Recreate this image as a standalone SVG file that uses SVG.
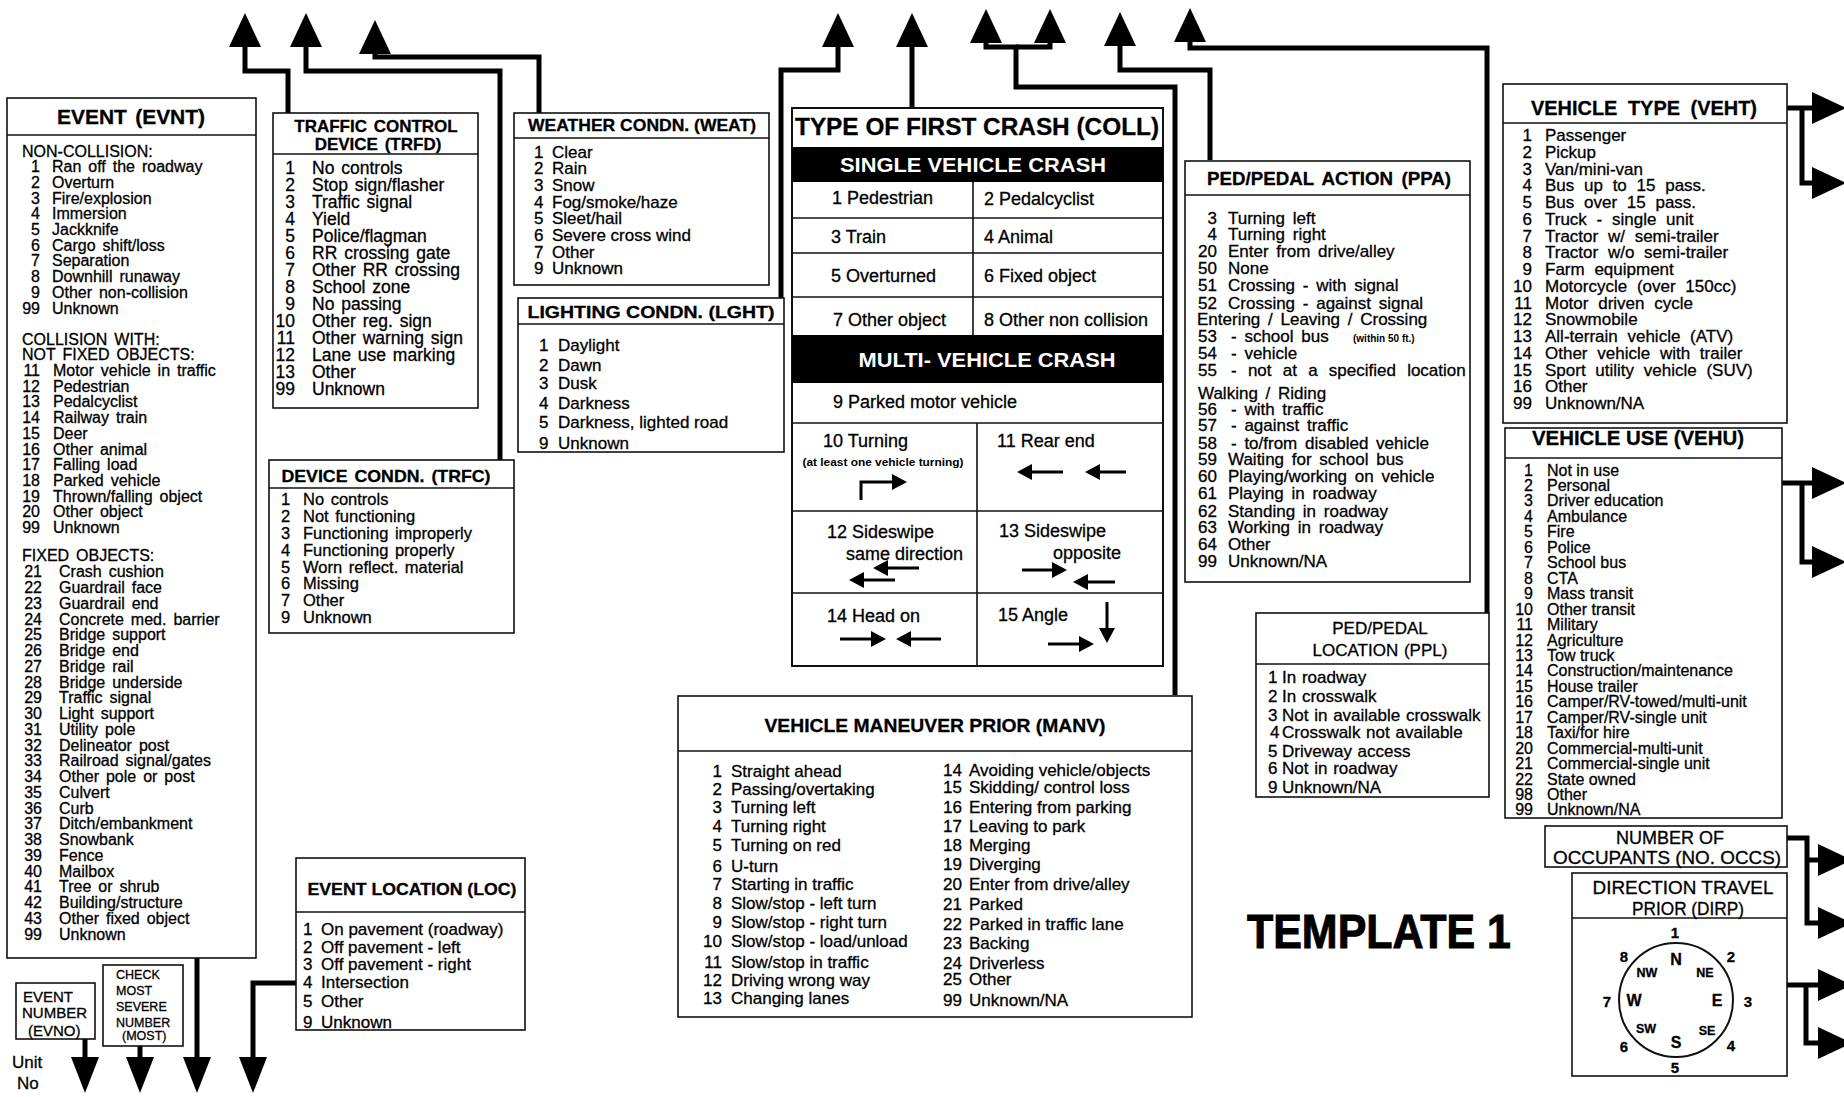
<svg xmlns="http://www.w3.org/2000/svg" width="1844" height="1097" viewBox="0 0 1844 1097">
<defs>
<style>
.bx{fill:#fff;stroke:#111;stroke-width:1.6}
.dv{stroke:#111;stroke-width:1.6}
text{font-family:"Liberation Sans",Arial,Helvetica,sans-serif;fill:#000;stroke:#000;stroke-width:0.3}
.h{font-weight:bold}
.n{text-anchor:end}
.m{text-anchor:middle}
.cn{fill:none;stroke:#000;stroke-width:5;marker-end:url(#ah)}
.cnb{fill:none;stroke:#000;stroke-width:5;marker-end:url(#ahb)}
.sa{fill:none;stroke:#000;stroke-width:3;marker-end:url(#sm)}
.ev{font-size:16px;word-spacing:2.5px}
.tr{font-size:17.5px;word-spacing:2px}
.dc{font-size:16.5px;word-spacing:2px}
.wl{font-size:17px}
.co{font-size:18px}
.mv{font-size:17px}
.lc{font-size:17px}
.pa{font-size:17px;word-spacing:3px}
.pl{font-size:17px;word-spacing:1px}
.vt{font-size:17px;word-spacing:5px}
.vu{font-size:16px}
.sm12{font-size:12.5px}
.s15{font-size:15px}
.t20{font-size:20px}
.t17{font-size:17px}
.t18{font-size:18px}
.t24{font-size:24px}
.wt{fill:#fff;stroke:none}
</style>
<marker id="ah" viewBox="0 0 34 32" refX="0" refY="16" markerWidth="34" markerHeight="32" markerUnits="userSpaceOnUse" orient="auto"><path d="M0,0L34,16L0,32Z" fill="#000"/></marker>
<marker id="ahb" viewBox="0 0 36 28" refX="0" refY="14" markerWidth="36" markerHeight="28" markerUnits="userSpaceOnUse" orient="auto"><path d="M0,0L36,14L0,28Z" fill="#000"/></marker>
<marker id="sm" viewBox="0 0 15 16" refX="0" refY="8" markerWidth="15" markerHeight="16" markerUnits="userSpaceOnUse" orient="auto"><path d="M0,0L15,8L0,16Z" fill="#000"/></marker>
</defs>
<rect x="0" y="0" width="1844" height="1097" fill="#fff"/>

<g id="connectors">
<path class="cn" d="M288,113 V71 H245 V47"/>
<path class="cn" d="M500,461 V71 H306 V47"/>
<path class="cn" d="M539,113 V57 H375 V54"/>
<path class="cn" d="M781,298 V70 H838 V47"/>
<path class="cn" d="M912,108 V47"/>
<path class="cn" d="M1175,695 V87 H1016 V47 H986 V43"/>
<path class="cn" d="M1016,47 H1050 V43"/>
<path class="cn" d="M1210,160 V70 H1120 V46"/>
<path class="cn" d="M1487,613 V48 H1190 V42"/>
<path class="cn" d="M1787,108 H1812"/>
<path class="cn" d="M1802,108 V183 H1812"/>
<path class="cn" d="M1782,483 H1812"/>
<path class="cn" d="M1802,483 V562 H1812"/>
<path class="cn" d="M1787,838 H1807 V923 H1818"/>
<path class="cn" d="M1807,860 H1818"/>
<path class="cn" d="M1787,985 H1818"/>
<path class="cn" d="M1806,985 V1043 H1818"/>
<path class="cnb" d="M85,1039 V1057"/>
<path class="cnb" d="M140,1046 V1057"/>
<path class="cnb" d="M197,958 V1057"/>
<path class="cnb" d="M296,983 H253 V1057"/>
</g>

<g id="evnt" class="ev">
<rect class="bx" x="7" y="98" width="249" height="860"/>
<line class="dv" x1="7" y1="135" x2="256" y2="135"/>
<text class="h m t20" x="131" y="124" textLength="148" lengthAdjust="spacingAndGlyphs">EVENT (EVNT)</text>
<text x="22" y="157">NON-COLLISION:</text>
<text class="n" x="40" y="172">1</text><text x="52" y="172">Ran off the roadway</text>
<text class="n" x="40" y="188">2</text><text x="52" y="188">Overturn</text>
<text class="n" x="40" y="204">3</text><text x="52" y="204">Fire/explosion</text>
<text class="n" x="40" y="219">4</text><text x="52" y="219">Immersion</text>
<text class="n" x="40" y="235">5</text><text x="52" y="235">Jackknife</text>
<text class="n" x="40" y="251">6</text><text x="52" y="251">Cargo shift/loss</text>
<text class="n" x="40" y="266">7</text><text x="52" y="266">Separation</text>
<text class="n" x="40" y="282">8</text><text x="52" y="282">Downhill runaway</text>
<text class="n" x="40" y="298">9</text><text x="52" y="298">Other non-collision</text>
<text class="n" x="40" y="314">99</text><text x="52" y="314">Unknown</text>
<text x="22" y="345">COLLISION WITH:</text>
<text x="22" y="360">NOT FIXED OBJECTS:</text>
<text class="n" x="40" y="376">11</text><text x="53" y="376">Motor vehicle in traffic</text>
<text class="n" x="40" y="392">12</text><text x="53" y="392">Pedestrian</text>
<text class="n" x="40" y="407">13</text><text x="53" y="407">Pedalcyclist</text>
<text class="n" x="40" y="423">14</text><text x="53" y="423">Railway train</text>
<text class="n" x="40" y="439">15</text><text x="53" y="439">Deer</text>
<text class="n" x="40" y="455">16</text><text x="53" y="455">Other animal</text>
<text class="n" x="40" y="470">17</text><text x="53" y="470">Falling load</text>
<text class="n" x="40" y="486">18</text><text x="53" y="486">Parked vehicle</text>
<text class="n" x="40" y="502">19</text><text x="53" y="502">Thrown/falling object</text>
<text class="n" x="40" y="517">20</text><text x="53" y="517">Other object</text>
<text class="n" x="40" y="533">99</text><text x="53" y="533">Unknown</text>
<text x="22" y="561">FIXED OBJECTS:</text>
<text class="n" x="42" y="577">21</text><text x="59" y="577">Crash cushion</text>
<text class="n" x="42" y="593">22</text><text x="59" y="593">Guardrail face</text>
<text class="n" x="42" y="609">23</text><text x="59" y="609">Guardrail end</text>
<text class="n" x="42" y="625">24</text><text x="59" y="625">Concrete med. barrier</text>
<text class="n" x="42" y="640">25</text><text x="59" y="640">Bridge support</text>
<text class="n" x="42" y="656">26</text><text x="59" y="656">Bridge end</text>
<text class="n" x="42" y="672">27</text><text x="59" y="672">Bridge rail</text>
<text class="n" x="42" y="688">28</text><text x="59" y="688">Bridge underside</text>
<text class="n" x="42" y="703">29</text><text x="59" y="703">Traffic signal</text>
<text class="n" x="42" y="719">30</text><text x="59" y="719">Light support</text>
<text class="n" x="42" y="735">31</text><text x="59" y="735">Utility pole</text>
<text class="n" x="42" y="751">32</text><text x="59" y="751">Delineator post</text>
<text class="n" x="42" y="766">33</text><text x="59" y="766">Railroad signal/gates</text>
<text class="n" x="42" y="782">34</text><text x="59" y="782">Other pole or post</text>
<text class="n" x="42" y="798">35</text><text x="59" y="798">Culvert</text>
<text class="n" x="42" y="814">36</text><text x="59" y="814">Curb</text>
<text class="n" x="42" y="829">37</text><text x="59" y="829">Ditch/embankment</text>
<text class="n" x="42" y="845">38</text><text x="59" y="845">Snowbank</text>
<text class="n" x="42" y="861">39</text><text x="59" y="861">Fence</text>
<text class="n" x="42" y="877">40</text><text x="59" y="877">Mailbox</text>
<text class="n" x="42" y="892">41</text><text x="59" y="892">Tree or shrub</text>
<text class="n" x="42" y="908">42</text><text x="59" y="908">Building/structure</text>
<text class="n" x="42" y="924">43</text><text x="59" y="924">Other fixed object</text>
<text class="n" x="42" y="940">99</text><text x="59" y="940">Unknown</text>
</g>

<g id="evno" class="s15">
<rect class="bx" x="16" y="983" width="79" height="56"/>
<text x="23" y="1002">EVENT</text>
<text x="22" y="1018">NUMBER</text>
<text x="28" y="1036">(EVNO)</text>
</g>

<g id="most" class="sm12">
<rect class="bx" x="103" y="965" width="80" height="81"/>
<text x="116" y="979">CHECK</text>
<text x="116" y="995">MOST</text>
<text x="116" y="1011">SEVERE</text>
<text x="116" y="1027">NUMBER</text>
<text x="122" y="1040">(MOST)</text>
</g>

<g id="unitno" class="t17">
<text x="12" y="1068">Unit</text>
<text x="17" y="1089">No</text>
</g>

<g id="trfd" class="tr">
<rect class="bx" x="273" y="113" width="205" height="295"/>
<line class="dv" x1="273" y1="154" x2="478" y2="154"/>
<text class="h m t17" x="376" y="132">TRAFFIC CONTROL</text>
<text class="h m t17" x="378" y="150">DEVICE (TRFD)</text>
<text class="n" x="295" y="174">1</text><text x="312" y="174">No controls</text>
<text class="n" x="295" y="191">2</text><text x="312" y="191">Stop sign/flasher</text>
<text class="n" x="295" y="208">3</text><text x="312" y="208">Traffic signal</text>
<text class="n" x="295" y="225">4</text><text x="312" y="225">Yield</text>
<text class="n" x="295" y="242">5</text><text x="312" y="242">Police/flagman</text>
<text class="n" x="295" y="259">6</text><text x="312" y="259">RR crossing gate</text>
<text class="n" x="295" y="276">7</text><text x="312" y="276">Other RR crossing</text>
<text class="n" x="295" y="293">8</text><text x="312" y="293">School zone</text>
<text class="n" x="295" y="310">9</text><text x="312" y="310">No passing</text>
<text class="n" x="295" y="327">10</text><text x="312" y="327">Other reg. sign</text>
<text class="n" x="295" y="344">11</text><text x="312" y="344">Other warning sign</text>
<text class="n" x="295" y="361">12</text><text x="312" y="361">Lane use marking</text>
<text class="n" x="295" y="378">13</text><text x="312" y="378">Other</text>
<text class="n" x="295" y="395">99</text><text x="312" y="395">Unknown</text>
</g>

<g id="trfc" class="dc">
<rect class="bx" x="269" y="460" width="245" height="173"/>
<line class="dv" x1="269" y1="488" x2="514" y2="488"/>
<text class="h m t17" x="386" y="482" textLength="209" lengthAdjust="spacingAndGlyphs">DEVICE CONDN. (TRFC)</text>
<text x="281" y="505">1</text><text x="303" y="505">No controls</text>
<text x="281" y="522">2</text><text x="303" y="522">Not functioning</text>
<text x="281" y="539">3</text><text x="303" y="539">Functioning improperly</text>
<text x="281" y="556">4</text><text x="303" y="556">Functioning properly</text>
<text x="281" y="573">5</text><text x="303" y="573">Worn reflect. material</text>
<text x="281" y="589">6</text><text x="303" y="589">Missing</text>
<text x="281" y="606">7</text><text x="303" y="606">Other</text>
<text x="281" y="623">9</text><text x="303" y="623">Unknown</text>
</g>

<g id="weat" class="wl">
<rect class="bx" x="514" y="113" width="255" height="172"/>
<line class="dv" x1="514" y1="138" x2="769" y2="138"/>
<text class="h m t17" x="642" y="131" textLength="228" lengthAdjust="spacingAndGlyphs">WEATHER CONDN. (WEAT)</text>
<text x="534" y="158">1</text><text x="552" y="158">Clear</text>
<text x="534" y="174">2</text><text x="552" y="174">Rain</text>
<text x="534" y="191">3</text><text x="552" y="191">Snow</text>
<text x="534" y="208">4</text><text x="552" y="208">Fog/smoke/haze</text>
<text x="534" y="224">5</text><text x="552" y="224">Sleet/hail</text>
<text x="534" y="241">6</text><text x="552" y="241">Severe cross wind</text>
<text x="534" y="258">7</text><text x="552" y="258">Other</text>
<text x="534" y="274">9</text><text x="552" y="274">Unknown</text>
</g>

<g id="lght" class="wl">
<rect class="bx" x="518" y="298" width="266" height="154"/>
<line class="dv" x1="518" y1="324" x2="784" y2="324"/>
<text class="h m t17" x="651" y="318" textLength="247" lengthAdjust="spacingAndGlyphs">LIGHTING CONDN. (LGHT)</text>
<text x="539" y="351">1</text><text x="558" y="351">Daylight</text>
<text x="539" y="371">2</text><text x="558" y="371">Dawn</text>
<text x="539" y="389">3</text><text x="558" y="389">Dusk</text>
<text x="539" y="409">4</text><text x="558" y="409">Darkness</text>
<text x="539" y="428">5</text><text x="558" y="428">Darkness, lighted road</text>
<text x="539" y="449">9</text><text x="558" y="449">Unknown</text>
</g>

<g id="coll" class="co">
<rect class="bx" x="792" y="108" width="371" height="558" style="stroke-width:2"/>
<text class="h m t24" x="977" y="135" textLength="364" lengthAdjust="spacingAndGlyphs">TYPE OF FIRST CRASH (COLL)</text>
<rect x="792" y="147" width="371" height="35" fill="#000"/>
<text class="h m t20 wt" x="973" y="172" textLength="266" lengthAdjust="spacingAndGlyphs">SINGLE VEHICLE CRASH</text>
<line class="dv" x1="792" y1="218" x2="1163" y2="218"/>
<line class="dv" x1="792" y1="253" x2="1163" y2="253"/>
<line class="dv" x1="792" y1="297" x2="1163" y2="297"/>
<line class="dv" x1="973" y1="182" x2="973" y2="335"/>
<rect x="792" y="335" width="371" height="48" fill="#000"/>
<text class="h m t20 wt" x="987" y="367" textLength="257" lengthAdjust="spacingAndGlyphs">MULTI- VEHICLE CRASH</text>
<line class="dv" x1="792" y1="423" x2="1163" y2="423"/>
<line class="dv" x1="792" y1="511" x2="1163" y2="511"/>
<line class="dv" x1="792" y1="593" x2="1163" y2="593"/>
<line class="dv" x1="977" y1="423" x2="977" y2="666"/>
<text x="832" y="204">1 Pedestrian</text>
<text x="984" y="205">2 Pedalcyclist</text>
<text x="831" y="243">3 Train</text>
<text x="984" y="243">4 Animal</text>
<text x="831" y="282">5 Overturned</text>
<text x="984" y="282">6 Fixed object</text>
<text x="833" y="326">7 Other object</text>
<text x="984" y="326">8 Other non collision</text>
<text x="833" y="408">9 Parked motor vehicle</text>
<text x="823" y="447">10 Turning</text>
<text class="h m" x="883" y="466" style="font-size:10.5px;stroke:none" textLength="161" lengthAdjust="spacingAndGlyphs">(at least one vehicle turning)</text>
<text x="997" y="447">11 Rear end</text>
<text x="827" y="538">12 Sideswipe</text>
<text x="846" y="560">same direction</text>
<text x="999" y="537">13 Sideswipe</text>
<text x="1053" y="559">opposite</text>
<text x="827" y="622">14 Head on</text>
<text x="998" y="621">15 Angle</text>
<path class="sa" d="M861,500 V482 H892"/>
<path class="sa" d="M1063,472 H1032"/>
<path class="sa" d="M1126,472 H1100"/>
<path class="sa" d="M919,568 H888"/>
<path class="sa" d="M895,580 H864"/>
<path class="sa" d="M1022,570 H1052"/>
<path class="sa" d="M1115,582 H1088"/>
<path class="sa" d="M840,639 H871"/>
<path class="sa" d="M941,639 H911"/>
<path class="sa" d="M1048,644 H1079"/>
<path class="sa" d="M1107,602 V628"/>
</g>

<g id="manv" class="mv">
<rect class="bx" x="678" y="696" width="514" height="321"/>
<line class="dv" x1="678" y1="751" x2="1192" y2="751"/>
<text class="h m t18" x="935" y="732" textLength="341" lengthAdjust="spacingAndGlyphs">VEHICLE MANEUVER PRIOR (MANV)</text>
<text class="n" x="722" y="777">1</text><text x="731" y="777">Straight ahead</text>
<text class="n" x="722" y="795">2</text><text x="731" y="795">Passing/overtaking</text>
<text class="n" x="722" y="813">3</text><text x="731" y="813">Turning left</text>
<text class="n" x="722" y="832">4</text><text x="731" y="832">Turning right</text>
<text class="n" x="722" y="851">5</text><text x="731" y="851">Turning on red</text>
<text class="n" x="722" y="872">6</text><text x="731" y="872">U-turn</text>
<text class="n" x="722" y="890">7</text><text x="731" y="890">Starting in traffic</text>
<text class="n" x="722" y="909">8</text><text x="731" y="909">Slow/stop - left turn</text>
<text class="n" x="722" y="928">9</text><text x="731" y="928">Slow/stop - right turn</text>
<text class="n" x="722" y="947">10</text><text x="731" y="947">Slow/stop - load/unload</text>
<text class="n" x="722" y="968">11</text><text x="731" y="968">Slow/stop in traffic</text>
<text class="n" x="722" y="986">12</text><text x="731" y="986">Driving wrong way</text>
<text class="n" x="722" y="1004">13</text><text x="731" y="1004">Changing lanes</text>
<text class="n" x="962" y="776">14</text><text x="969" y="776">Avoiding vehicle/objects</text>
<text class="n" x="962" y="793">15</text><text x="969" y="793">Skidding/ control loss</text>
<text class="n" x="962" y="813">16</text><text x="969" y="813">Entering from parking</text>
<text class="n" x="962" y="832">17</text><text x="969" y="832">Leaving to park</text>
<text class="n" x="962" y="851">18</text><text x="969" y="851">Merging</text>
<text class="n" x="962" y="870">19</text><text x="969" y="870">Diverging</text>
<text class="n" x="962" y="890">20</text><text x="969" y="890">Enter from drive/alley</text>
<text class="n" x="962" y="910">21</text><text x="969" y="910">Parked</text>
<text class="n" x="962" y="930">22</text><text x="969" y="930">Parked in traffic lane</text>
<text class="n" x="962" y="949">23</text><text x="969" y="949">Backing</text>
<text class="n" x="962" y="969">24</text><text x="969" y="969">Driverless</text>
<text class="n" x="962" y="985">25</text><text x="969" y="985">Other</text>
<text class="n" x="962" y="1006">99</text><text x="969" y="1006">Unknown/NA</text>
</g>

<g id="loc" class="lc">
<rect class="bx" x="296" y="858" width="229" height="172"/>
<line class="dv" x1="296" y1="912" x2="525" y2="912"/>
<text class="h m t17" x="412" y="895" textLength="209" lengthAdjust="spacingAndGlyphs">EVENT LOCATION (LOC)</text>
<text x="303" y="935">1</text><text x="321" y="935">On pavement (roadway)</text>
<text x="303" y="953">2</text><text x="321" y="953">Off pavement - left</text>
<text x="303" y="970">3</text><text x="321" y="970">Off pavement - right</text>
<text x="303" y="988">4</text><text x="321" y="988">Intersection</text>
<text x="303" y="1007">5</text><text x="321" y="1007">Other</text>
<text x="303" y="1028">9</text><text x="321" y="1028">Unknown</text>
</g>

<g id="ppa" class="pa">
<rect class="bx" x="1185" y="161" width="285" height="421"/>
<line class="dv" x1="1185" y1="195" x2="1470" y2="195"/>
<text class="h m t18" x="1329" y="185" textLength="244" lengthAdjust="spacingAndGlyphs">PED/PEDAL ACTION (PPA)</text>
<text class="n" x="1217" y="224">3</text><text x="1228" y="224">Turning left</text>
<text class="n" x="1217" y="240">4</text><text x="1228" y="240">Turning right</text>
<text class="n" x="1217" y="257">20</text><text x="1228" y="257">Enter from drive/alley</text>
<text class="n" x="1217" y="274">50</text><text x="1228" y="274">None</text>
<text class="n" x="1217" y="291">51</text><text x="1228" y="291">Crossing - with signal</text>
<text class="n" x="1217" y="309">52</text><text x="1228" y="309">Crossing - against signal</text>
<text x="1197" y="325">Entering / Leaving / Crossing</text>
<text class="n" x="1217" y="342">53</text><text x="1231" y="342">- school bus</text>
<text class="h" x="1353" y="342" style="font-size:10px;word-spacing:0;stroke:none">(within 50 ft.)</text>
<text class="n" x="1217" y="359">54</text><text x="1231" y="359">- vehicle</text>
<text class="n" x="1217" y="376">55</text><text x="1231" y="376" style="word-spacing:6.5px">- not at a specified location</text>
<text x="1198" y="399">Walking / Riding</text>
<text class="n" x="1217" y="415">56</text><text x="1231" y="415">- with traffic</text>
<text class="n" x="1217" y="431">57</text><text x="1231" y="431">- against traffic</text>
<text class="n" x="1217" y="449">58</text><text x="1231" y="449">- to/from disabled vehicle</text>
<text class="n" x="1217" y="465">59</text><text x="1228" y="465">Waiting for school bus</text>
<text class="n" x="1217" y="482">60</text><text x="1228" y="482">Playing/working on vehicle</text>
<text class="n" x="1217" y="499">61</text><text x="1228" y="499">Playing in roadway</text>
<text class="n" x="1217" y="517">62</text><text x="1228" y="517">Standing in roadway</text>
<text class="n" x="1217" y="533">63</text><text x="1228" y="533">Working in roadway</text>
<text class="n" x="1217" y="550">64</text><text x="1228" y="550">Other</text>
<text class="n" x="1217" y="567">99</text><text x="1228" y="567">Unknown/NA</text>
</g>

<g id="ppl" class="pl">
<rect class="bx" x="1256" y="613" width="233" height="184"/>
<line class="dv" x1="1256" y1="664" x2="1489" y2="664"/>
<text class="m" x="1380" y="634">PED/PEDAL</text>
<text class="m" x="1380" y="656">LOCATION (PPL)</text>
<text x="1268" y="683">1</text><text x="1282" y="683">In roadway</text>
<text x="1268" y="702">2</text><text x="1282" y="702">In crosswalk</text>
<text x="1268" y="721">3</text><text x="1282" y="721">Not in available crosswalk</text>
<text x="1270" y="738">4</text><text x="1282" y="738">Crosswalk not available</text>
<text x="1268" y="757">5</text><text x="1282" y="757">Driveway access</text>
<text x="1268" y="774">6</text><text x="1282" y="774">Not in roadway</text>
<text x="1268" y="793">9</text><text x="1282" y="793">Unknown/NA</text>
</g>

<g id="veht" class="vt">
<rect class="bx" x="1503" y="84" width="284" height="339"/>
<line class="dv" x1="1503" y1="123" x2="1787" y2="123"/>
<text class="h m t20" x="1644" y="115" textLength="226" lengthAdjust="spacingAndGlyphs">VEHICLE TYPE (VEHT)</text>
<text class="n" x="1532" y="141">1</text><text x="1545" y="141">Passenger</text>
<text class="n" x="1532" y="158">2</text><text x="1545" y="158">Pickup</text>
<text class="n" x="1532" y="175">3</text><text x="1545" y="175">Van/mini-van</text>
<text class="n" x="1532" y="191">4</text><text x="1545" y="191">Bus up to 15 pass.</text>
<text class="n" x="1532" y="208">5</text><text x="1545" y="208">Bus over 15 pass.</text>
<text class="n" x="1532" y="225">6</text><text x="1545" y="225">Truck - single unit</text>
<text class="n" x="1532" y="242">7</text><text x="1545" y="242">Tractor w/ semi-trailer</text>
<text class="n" x="1532" y="258">8</text><text x="1545" y="258">Tractor w/o semi-trailer</text>
<text class="n" x="1532" y="275">9</text><text x="1545" y="275">Farm equipment</text>
<text class="n" x="1532" y="292">10</text><text x="1545" y="292">Motorcycle (over 150cc)</text>
<text class="n" x="1532" y="309">11</text><text x="1545" y="309">Motor driven cycle</text>
<text class="n" x="1532" y="325">12</text><text x="1545" y="325">Snowmobile</text>
<text class="n" x="1532" y="342">13</text><text x="1545" y="342">All-terrain vehicle (ATV)</text>
<text class="n" x="1532" y="359">14</text><text x="1545" y="359">Other vehicle with trailer</text>
<text class="n" x="1532" y="376">15</text><text x="1545" y="376">Sport utility vehicle (SUV)</text>
<text class="n" x="1532" y="392">16</text><text x="1545" y="392">Other</text>
<text class="n" x="1532" y="409">99</text><text x="1545" y="409">Unknown/NA</text>
</g>

<g id="vehu" class="vu">
<rect class="bx" x="1505" y="428" width="277" height="390"/>
<line class="dv" x1="1505" y1="458" x2="1782" y2="458"/>
<text class="h m t20" x="1638" y="445" textLength="212" lengthAdjust="spacingAndGlyphs">VEHICLE USE (VEHU)</text>
<text class="n" x="1533" y="475.5">1</text><text x="1547" y="475.5">Not in use</text>
<text class="n" x="1533" y="491">2</text><text x="1547" y="491">Personal</text>
<text class="n" x="1533" y="506.4">3</text><text x="1547" y="506.4">Driver education</text>
<text class="n" x="1533" y="521.9">4</text><text x="1547" y="521.9">Ambulance</text>
<text class="n" x="1533" y="537.3">5</text><text x="1547" y="537.3">Fire</text>
<text class="n" x="1533" y="552.8">6</text><text x="1547" y="552.8">Police</text>
<text class="n" x="1533" y="568.2">7</text><text x="1547" y="568.2">School bus</text>
<text class="n" x="1533" y="583.7">8</text><text x="1547" y="583.7">CTA</text>
<text class="n" x="1533" y="599.1">9</text><text x="1547" y="599.1">Mass transit</text>
<text class="n" x="1533" y="614.6">10</text><text x="1547" y="614.6">Other transit</text>
<text class="n" x="1533" y="630">11</text><text x="1547" y="630">Military</text>
<text class="n" x="1533" y="645.5">12</text><text x="1547" y="645.5">Agriculture</text>
<text class="n" x="1533" y="660.9">13</text><text x="1547" y="660.9">Tow truck</text>
<text class="n" x="1533" y="676.4">14</text><text x="1547" y="676.4">Construction/maintenance</text>
<text class="n" x="1533" y="691.8">15</text><text x="1547" y="691.8">House trailer</text>
<text class="n" x="1533" y="707.3">16</text><text x="1547" y="707.3">Camper/RV-towed/multi-unit</text>
<text class="n" x="1533" y="722.7">17</text><text x="1547" y="722.7">Camper/RV-single unit</text>
<text class="n" x="1533" y="738.2">18</text><text x="1547" y="738.2">Taxi/for hire</text>
<text class="n" x="1533" y="753.6">20</text><text x="1547" y="753.6">Commercial-multi-unit</text>
<text class="n" x="1533" y="769.1">21</text><text x="1547" y="769.1">Commercial-single unit</text>
<text class="n" x="1533" y="784.5">22</text><text x="1547" y="784.5">State owned</text>
<text class="n" x="1533" y="800">98</text><text x="1547" y="800">Other</text>
<text class="n" x="1533" y="815.4">99</text><text x="1547" y="815.4">Unknown/NA</text>
</g>

<g id="occs" class="t18">
<rect class="bx" x="1545" y="826" width="242" height="41"/>
<text class="m" x="1670" y="844">NUMBER OF</text>
<text class="m" x="1667" y="864" textLength="228" lengthAdjust="spacingAndGlyphs">OCCUPANTS (NO. OCCS)</text>
</g>

<g id="dirp" class="t18">
<rect class="bx" x="1572" y="873" width="215" height="203"/>
<line class="dv" x1="1572" y1="918" x2="1787" y2="918"/>
<text class="m" x="1683" y="894" textLength="181" lengthAdjust="spacingAndGlyphs">DIRECTION TRAVEL</text>
<text class="m" x="1688" y="915" textLength="112" lengthAdjust="spacingAndGlyphs">PRIOR (DIRP)</text>
<ellipse cx="1676" cy="1000" rx="57" ry="57" fill="none" stroke="#111" stroke-width="2"/>
<g class="h m" style="font-size:15px">
<text x="1675" y="938">1</text>
<text x="1731" y="962">2</text>
<text x="1748" y="1007">3</text>
<text x="1731" y="1051">4</text>
<text x="1675" y="1073">5</text>
<text x="1624" y="1052">6</text>
<text x="1607" y="1007">7</text>
<text x="1624" y="962">8</text>
</g>
<g class="h m" style="font-size:16px">
<text x="1676" y="965">N</text>
<text x="1717" y="1006">E</text>
<text x="1676" y="1048">S</text>
<text x="1634" y="1006">W</text>
</g>
<g class="h m" style="font-size:12.5px">
<text x="1705" y="977">NE</text>
<text x="1707" y="1035">SE</text>
<text x="1646" y="1033">SW</text>
<text x="1647" y="977">NW</text>
</g>
</g>

<g id="template">
<text class="h m" x="1379" y="948" style="font-size:48px;stroke-width:1" textLength="264" lengthAdjust="spacingAndGlyphs">TEMPLATE 1</text>
</g>
</svg>
